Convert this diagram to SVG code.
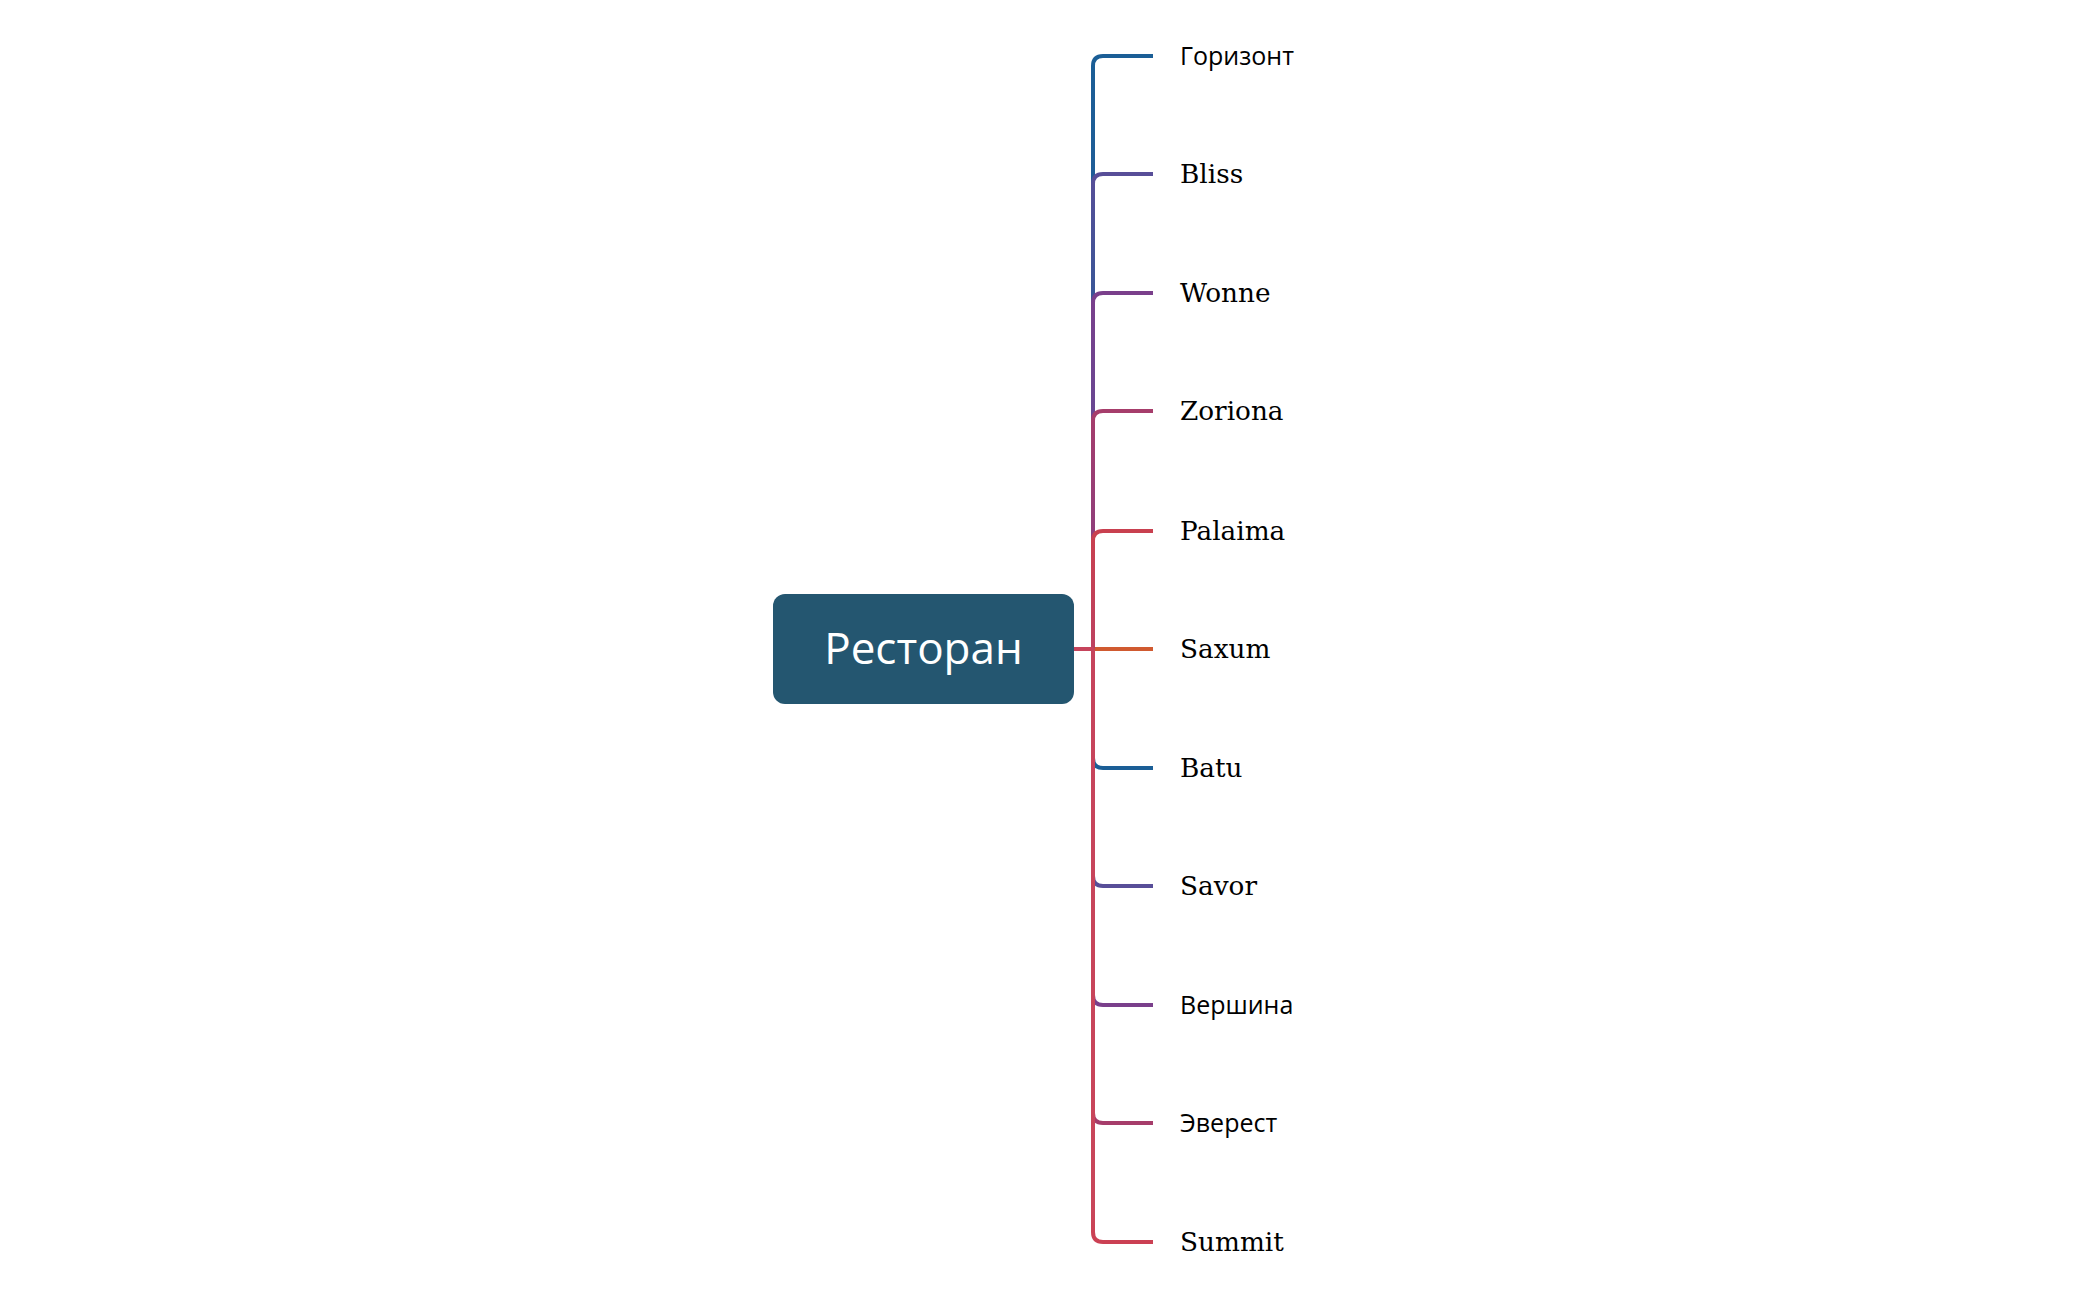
<svg xmlns="http://www.w3.org/2000/svg" width="2100" height="1299" viewBox="0 0 2100 1299">
<style>
.edge{fill:none;stroke-width:4;stroke-linecap:butt;stroke-linejoin:round}
.sans{font-family:"Open Sans","Noto Sans","DejaVu Sans",sans-serif;font-size:25px;font-weight:500;fill:#000}
.serif{font-family:"DejaVu Serif","Liberation Serif",serif;font-size:26.3px;fill:#000}
.root-text{font-family:"Open Sans","Noto Sans",sans-serif;font-size:44px;font-weight:500;fill:#ffffff;text-anchor:middle}
</style>
<defs>
<linearGradient id="g1" gradientUnits="userSpaceOnUse" x1="0" y1="56" x2="0" y2="174"><stop offset="0" stop-color="#1b5e96"/><stop offset="1" stop-color="#1f5d97"/></linearGradient>
<linearGradient id="g2" gradientUnits="userSpaceOnUse" x1="0" y1="174" x2="0" y2="293"><stop offset="0" stop-color="#584e98"/><stop offset="1" stop-color="#3a5697"/></linearGradient>
<linearGradient id="g3" gradientUnits="userSpaceOnUse" x1="0" y1="293" x2="0" y2="411"><stop offset="0" stop-color="#7a3f8b"/><stop offset="1" stop-color="#694792"/></linearGradient>
<linearGradient id="g4" gradientUnits="userSpaceOnUse" x1="0" y1="411" x2="0" y2="531"><stop offset="0" stop-color="#a63d6b"/><stop offset="1" stop-color="#903e7b"/></linearGradient>
<linearGradient id="g5" gradientUnits="userSpaceOnUse" x1="0" y1="531" x2="0" y2="649"><stop offset="0" stop-color="#c9404f"/><stop offset="1" stop-color="#bd4260"/></linearGradient>
<linearGradient id="g11" gradientUnits="userSpaceOnUse" x1="0" y1="649" x2="0" y2="1242"><stop offset="0" stop-color="#c6445c"/><stop offset="0.95" stop-color="#c9465a"/><stop offset="1" stop-color="#cb4053"/></linearGradient>
</defs>
<g id="connectors">
<path class="edge" stroke="url(#g1)" d="M1074,649 H1093 V66 Q1093,56 1103,56 H1153"/>
<path class="edge" stroke="url(#g2)" d="M1074,649 H1093 V184 Q1093,174 1103,174 H1153"/>
<path class="edge" stroke="url(#g3)" d="M1074,649 H1093 V303 Q1093,293 1103,293 H1153"/>
<path class="edge" stroke="url(#g4)" d="M1074,649 H1093 V421 Q1093,411 1103,411 H1153"/>
<path class="edge" stroke="url(#g5)" d="M1074,649 H1093 V541 Q1093,531 1103,531 H1153"/>
<path class="edge" stroke="#d05a30" d="M1074,649 H1153"/>
<path class="edge" stroke="#1b5e96" d="M1074,649 H1093 V758 Q1093,768 1103,768 H1153"/>
<path class="edge" stroke="#584e98" d="M1074,649 H1093 V876 Q1093,886 1103,886 H1153"/>
<path class="edge" stroke="#7a3f8b" d="M1074,649 H1093 V995 Q1093,1005 1103,1005 H1153"/>
<path class="edge" stroke="#a63d6b" d="M1074,649 H1093 V1113 Q1093,1123 1103,1123 H1153"/>
<path class="edge" stroke="url(#g11)" d="M1074,649 H1093 V1232 Q1093,1242 1103,1242 H1153"/>
</g>
<g id="root">
<rect x="773" y="594" width="301" height="110" rx="12" ry="12" fill="#245670"/>
<text class="root-text" x="923.5" y="664">Ресторан</text>
</g>
<g id="n1"><text class="sans" x="1180" y="65">Горизонт</text></g>
<g id="n2"><text class="serif" x="1180" y="183">Bliss</text></g>
<g id="n3"><text class="serif" x="1180" y="302">Wonne</text></g>
<g id="n4"><text class="serif" x="1180" y="420">Zoriona</text></g>
<g id="n5"><text class="serif" x="1180" y="540">Palaima</text></g>
<g id="n6"><text class="serif" x="1180" y="658">Saxum</text></g>
<g id="n7"><text class="serif" x="1180" y="777">Batu</text></g>
<g id="n8"><text class="serif" x="1180" y="895">Savor</text></g>
<g id="n9"><text class="sans" x="1180" y="1014">Вершина</text></g>
<g id="n10"><text class="sans" x="1180" y="1132">Эверест</text></g>
<g id="n11"><text class="serif" x="1180" y="1251">Summit</text></g>
</svg>
